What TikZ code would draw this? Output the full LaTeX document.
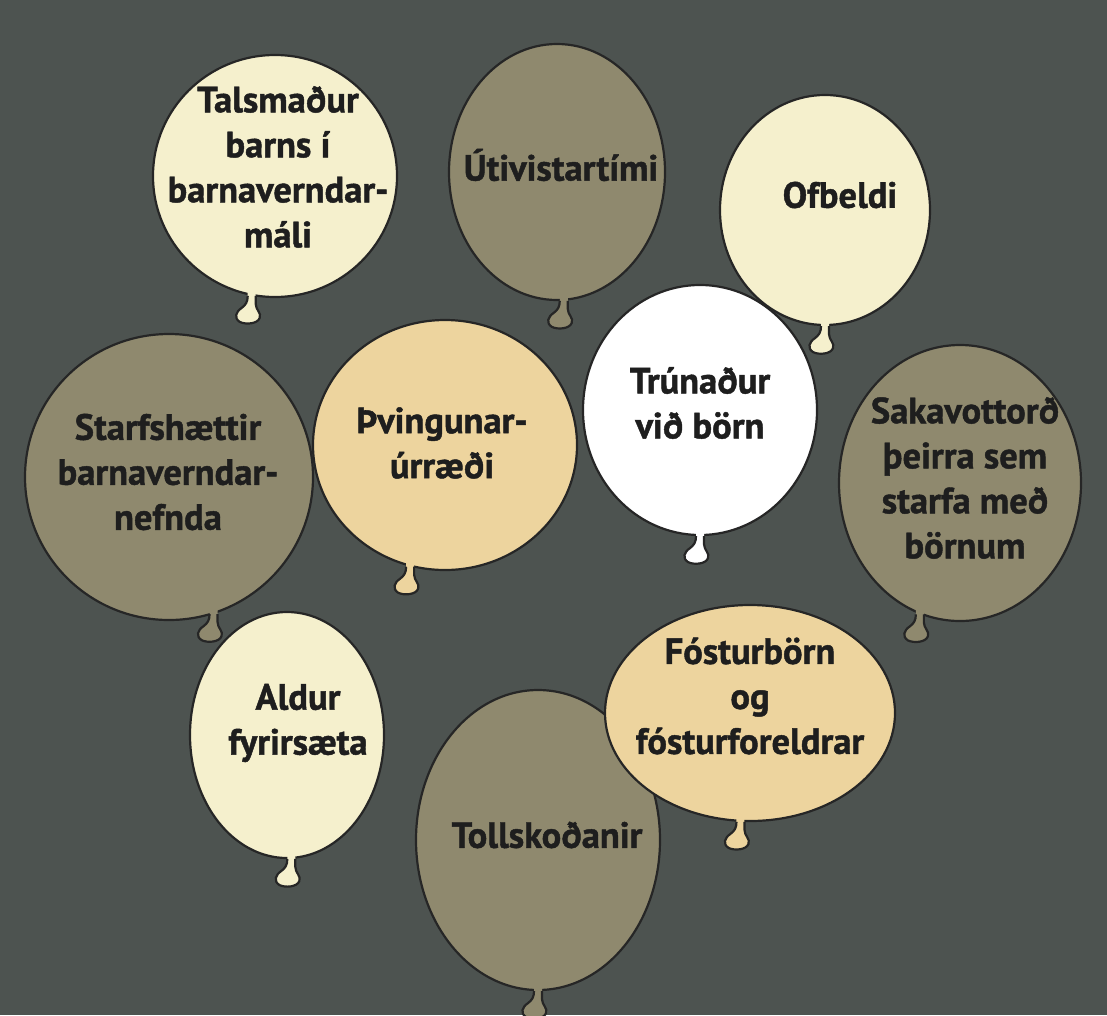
\documentclass[tikz,border=0pt]{standalone}
\usepackage{fontspec}
\setmainfont{PT Sans}[BoldFeatures={FakeBold=1.2}]
\usetikzlibrary{shapes.geometric}
\definecolor{slate}{RGB}{77,83,80}
\definecolor{cream}{RGB}{245,240,205}
\definecolor{khaki}{RGB}{143,137,110}
\definecolor{tan}{RGB}{237,212,158}
\definecolor{ink}{RGB}{30,30,30}
\tikzset{every picture/.style={line width=2.2pt}}
\tikzset{
  balloon/.style={ellipse, draw=black!85, inner sep=0pt},
  label text/.style={align=center, inner sep=0pt, text=ink,
    font=\bfseries\fontsize{36.5}{45}\selectfont},
  balloonknot/.pic={
    \fill[#1] (-4,6) -- (-4,0) .. controls (-4,-6) and (-6,-9) .. (-10,-12) .. controls (-16,-16) and (-18,-22) .. (-12,-26) .. controls (-6,-29) and (6,-28) .. (8,-22) .. controls (10,-17) and (4,-14) .. (4,-8) -- (4,0) -- (4,6) -- cycle;
    \draw[black!85] (-4,0) .. controls (-4,-6) and (-6,-9) .. (-10,-12) .. controls (-16,-16) and (-18,-22) .. (-12,-26) .. controls (-6,-29) and (6,-28) .. (8,-22) .. controls (10,-17) and (4,-14) .. (4,-8) -- (4,0);
  }
}

\begin{document}
\begin{tikzpicture}[x=1pt,y=1pt,yscale=-1,xscale=1]
%Background
\fill[slate] (0,0) rectangle (1107,1015);
\useasboundingbox (0,0) rectangle (1107,1015);

%Shape: Ellipse [talsmadur]
\node[balloon, fill=cream, minimum width=244, minimum height=242] (talsmadur) at (275,176) {};
\pic at (talsmadur.259) {balloonknot=cream};
%Shape: Ellipse [utivist]
\node[balloon, fill=khaki, minimum width=216, minimum height=256] (utivist) at (557,172) {};
\pic at (utivist.273) {balloonknot=khaki};
%Shape: Ellipse [ofbeldi]
\node[balloon, fill=cream, minimum width=210, minimum height=230] (ofbeldi) at (825,210) {};
\pic at (ofbeldi.270) {balloonknot=cream};
%Shape: Ellipse [starfshaettir]
\node[balloon, fill=khaki, minimum width=288, minimum height=286] (starfshaettir) at (169,477) {};
\pic at (starfshaettir.288) {balloonknot=khaki};
%Shape: Ellipse [thvingun]
\node[balloon, fill=tan, minimum width=264, minimum height=250] (thvingun) at (445,445) {};
\pic at (thvingun.254) {balloonknot=tan};
%Shape: Ellipse [trunadur]
\node[balloon, fill=white, minimum width=234, minimum height=250] (trunadur) at (700,410) {};
\pic at (trunadur.270) {balloonknot=white};
%Shape: Ellipse [sakavottord]
\node[balloon, fill=khaki, minimum width=242, minimum height=276] (sakavottord) at (960,483) {};
\pic at (sakavottord.253) {balloonknot=khaki};
%Shape: Ellipse [aldur]
\node[balloon, fill=cream, minimum width=194, minimum height=246] (aldur) at (287,735) {};
\pic at (aldur.272) {balloonknot=cream};
%Shape: Ellipse [tollskodun]
\node[balloon, fill=khaki, minimum width=244, minimum height=300] (tollskodun) at (538,840) {};
\pic at (tollskodun.270) {balloonknot=khaki};
%Shape: Ellipse [fostur]
\node[balloon, fill=tan, minimum width=290, minimum height=216] (fostur) at (750,713) {};
\pic at (fostur.265) {balloonknot=tan};

% Text Node
\node[label text] (talsmadurtxt) at (278,167) {Talsmaður\\barns í\\barnaverndar-\\máli};
% Text Node
\node[label text] (utivisttxt) at (561,165) {Útivistartími};
% Text Node
\node[label text] (ofbelditxt) at (840,195) {Ofbeldi};
% Text Node
\node[label text] (starfshaettirtxt) at (168,472) {Starfshættir\\barnaverndar-\\nefnda};
% Text Node
\node[label text] (thvinguntxt) at (442,443) {Þvingunar-\\úrræði};
% Text Node
\node[label text] (trunadurtxt) at (700,403) {Trúnaður\\við börn};
% Text Node
\node[label text] (sakavottordtxt) at (965,478) {Sakavottorð\\þeirra sem\\starfa með\\börnum};
% Text Node
\node[label text] (aldurtxt) at (298,723) {Aldur\\fyrirsæta};
% Text Node
\node[label text] (fosturtxt) at (750,696) {Fósturbörn\\og\\fósturforeldrar};
% Text Node
\node[label text] (tollskoduntxt) at (547,835) {Tollskoðanir};

\end{tikzpicture}
\end{document}
